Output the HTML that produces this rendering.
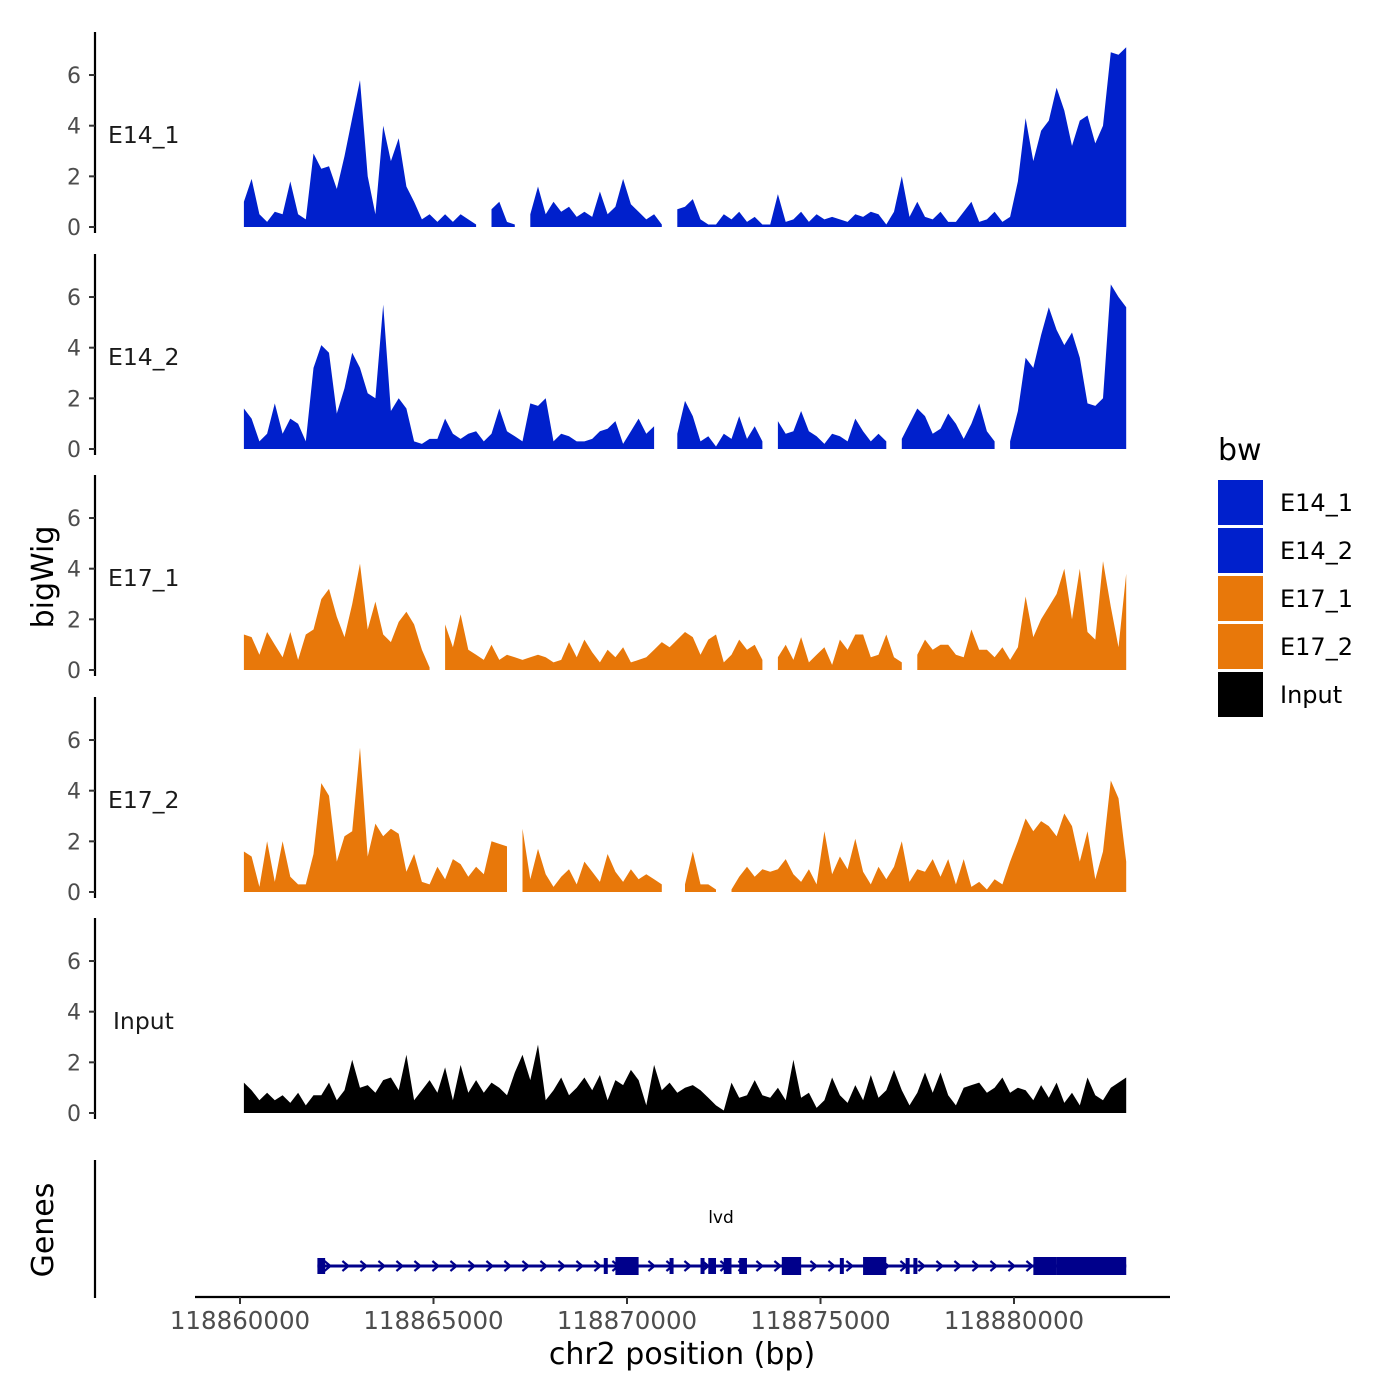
<!DOCTYPE html>
<html><head><meta charset="utf-8"><style>
body{margin:0;background:#fff}
svg{display:block;font-family:"DejaVu Sans","Liberation Sans",sans-serif}
</style></head><body>
<svg id="chart" width="1400" height="1400" viewBox="0 0 1400 1400"></svg>
<script>
const START_BP = 118860000;
const BIN_BP = 200;
const trackNames = ["E14_1","E14_2","E17_1","E17_2","Input"];
const trackColors = ["#0020CC","#0020CC","#E8780A","#E8780A","#000000"];
const yTicks = [0,2,4,6];
const xTickValues = [118860000,118865000,118870000,118875000,118880000];
const E14_1 = [1.0,1.9,0.5,0.2,0.6,0.5,1.8,0.5,0.3,2.9,2.3,2.4,1.5,2.8,4.3,5.8,2.0,0.5,4.0,2.6,3.5,1.6,1.0,0.3,0.5,0.2,0.5,0.2,0.5,0.3,0.1,null,0.7,1.0,0.2,0.1,null,0.5,1.6,0.5,1.0,0.6,0.8,0.4,0.6,0.4,1.4,0.5,0.8,1.9,0.9,0.6,0.3,0.5,0.1,null,0.7,0.8,1.1,0.3,0.1,0.1,0.5,0.3,0.6,0.2,0.4,0.1,0.1,1.3,0.2,0.3,0.6,0.2,0.5,0.3,0.4,0.3,0.2,0.5,0.4,0.6,0.5,0.1,0.6,2.0,0.4,1.0,0.4,0.3,0.6,0.2,0.2,0.6,1.0,0.2,0.3,0.6,0.2,0.4,1.8,4.3,2.6,3.8,4.2,5.5,4.6,3.2,4.2,4.4,3.3,4.0,6.9,6.8,7.1];
const E14_2 = [1.6,1.2,0.3,0.6,1.8,0.6,1.2,1.0,0.3,3.2,4.1,3.8,1.4,2.4,3.8,3.2,2.2,2.0,5.7,1.5,2.0,1.6,0.3,0.2,0.4,0.4,1.2,0.6,0.4,0.6,0.7,0.3,0.6,1.6,0.7,0.5,0.3,1.8,1.7,2.0,0.3,0.6,0.5,0.3,0.3,0.4,0.7,0.8,1.1,0.2,0.7,1.2,0.6,0.9,null,null,0.6,1.9,1.3,0.3,0.5,0.1,0.6,0.4,1.3,0.4,0.9,0.3,null,1.1,0.6,0.7,1.5,0.7,0.5,0.2,0.6,0.5,0.3,1.2,0.7,0.3,0.6,0.3,null,0.4,1.0,1.6,1.3,0.6,0.8,1.4,1.0,0.4,1.0,1.8,0.7,0.3,null,0.3,1.5,3.6,3.2,4.5,5.6,4.7,4.1,4.6,3.6,1.8,1.7,2.0,6.5,6.0,5.6];
const E17_1 = [1.4,1.3,0.6,1.5,1.0,0.5,1.5,0.4,1.4,1.6,2.8,3.2,2.1,1.3,2.6,4.2,1.6,2.7,1.4,1.1,1.9,2.3,1.8,0.8,0.1,null,1.8,0.9,2.2,0.8,0.6,0.4,1.0,0.4,0.6,0.5,0.4,0.5,0.6,0.5,0.3,0.4,1.1,0.5,1.2,0.7,0.3,0.8,0.5,0.9,0.3,0.4,0.5,0.8,1.1,0.9,1.2,1.5,1.3,0.6,1.2,1.4,0.3,0.6,1.2,0.8,1.0,0.4,null,0.5,1.0,0.4,1.3,0.3,0.6,0.9,0.2,1.2,0.8,1.4,1.4,0.5,0.6,1.4,0.5,0.3,null,0.6,1.2,0.8,1.0,1.0,0.6,0.5,1.6,0.8,0.8,0.5,0.9,0.4,0.9,2.9,1.3,2.0,2.5,3.0,4.0,2.0,4.0,1.5,1.2,4.3,2.5,0.9,3.8];
const E17_2 = [1.6,1.4,0.2,2.0,0.4,2.0,0.6,0.3,0.3,1.5,4.3,3.8,1.2,2.2,2.4,5.7,1.4,2.7,2.2,2.5,2.3,0.8,1.5,0.4,0.3,1.0,0.5,1.3,1.1,0.6,1.0,0.7,2.0,1.9,1.8,null,2.5,0.5,1.7,0.7,0.2,0.6,0.9,0.3,1.2,0.8,0.4,1.5,0.8,0.4,0.9,0.5,0.7,0.5,0.3,null,null,0.3,1.6,0.3,0.3,0.1,null,0.1,0.6,1.0,0.6,0.9,0.8,0.9,1.3,0.7,0.4,0.9,0.3,2.4,0.7,1.4,0.9,2.1,0.8,0.3,1.0,0.5,1.0,2.0,0.4,0.9,0.8,1.3,0.6,1.3,0.3,1.3,0.2,0.4,0.1,0.5,0.3,1.2,2.0,2.9,2.4,2.8,2.6,2.2,3.1,2.6,1.2,2.4,0.5,1.6,4.4,3.7,1.2];
const Input = [1.2,0.9,0.5,0.8,0.5,0.7,0.4,0.8,0.3,0.7,0.7,1.2,0.5,0.9,2.1,1.0,1.1,0.8,1.3,1.4,0.9,2.3,0.5,0.9,1.3,0.8,1.8,0.5,1.9,0.8,1.3,0.8,1.2,1.0,0.7,1.6,2.3,1.3,2.7,0.5,0.9,1.4,0.7,1.0,1.4,0.9,1.5,0.5,1.3,1.1,1.7,1.3,0.3,1.9,0.9,1.2,0.8,1.0,1.1,0.9,0.6,0.3,0.1,1.2,0.6,0.7,1.3,0.7,0.6,1.0,0.5,2.1,0.6,0.8,0.2,0.5,1.4,0.7,0.4,1.1,0.5,1.5,0.6,0.9,1.7,0.9,0.3,0.8,1.6,0.8,1.6,0.7,0.3,1.0,1.1,1.2,0.8,1.0,1.4,0.8,1.0,0.9,0.5,1.1,0.6,1.2,0.4,0.8,0.3,1.4,0.7,0.5,1.0,1.2,1.4];
const trackValues = [E14_1,E14_2,E17_1,E17_2,Input];
const geneStartBp = 118862000, geneEndBp = 118882900;
const exonStarts = [118862000,118869400,118869700,118871100,118871900,118872100,118872500,118872900,118874000,118875500,118876100,118877200,118877400,118880500,118881100];
const exonEnds   = [118862200,118869500,118870300,118871200,118872000,118872300,118872700,118873100,118874500,118875600,118876700,118877300,118877500,118881100,118882900];

const NS="http://www.w3.org/2000/svg";
const svg=document.getElementById('chart');
function mk(t,a,p){const e=document.createElementNS(NS,t);for(const k in a)e.setAttribute(k,a[k]);(p||svg).appendChild(e);return e;}
const xS=bp=>240+(bp-START_BP)*0.0387;
const PX_PER_UNIT=25.33;
const zeroY=[227,449,670,892,1113];

trackNames.forEach((name,t)=>{
  const g=mk('g',{});
  
  
  const y0=zeroY[t];
  const yS=v=>y0-v*PX_PER_UNIT;
  const ax=mk('line',{x1:95,x2:95,y1:y0-195,y2:y0+6,stroke:'#000','stroke-width':2.2},g);
  
  
  yTicks.forEach(v=>{
    mk('line',{x1:89,x2:95,y1:yS(v),y2:yS(v),stroke:'#333','stroke-width':2},g);
    const tx=mk('text',{x:81,y:yS(v)+8,'text-anchor':'end','font-size':22,fill:'#4d4d4d'},g);
    tx.textContent=v;
    
    
  });
  const lbl=mk('text',{x:name==='Input'?113:108,y:name==='Input'?1029:y0-84,'font-size':23.5,fill:'#1a1a1a'},g);
  lbl.textContent=name;
  
  
  const vals=trackValues[t];
  let seg=[];
  const flush=()=>{
    if(seg.length){
      let d='M'+seg[0][0]+','+y0;
      seg.forEach(p=>d+='L'+p[0]+','+p[1]);
      d+='L'+seg[seg.length-1][0]+','+y0+'Z';
      const p=mk('path',{d:d,fill:trackColors[t]},g);
      
      
    }
    seg=[];
  };
  vals.forEach((v,i)=>{
    if(v===null){flush();return;}
    seg.push([xS(START_BP+i*BIN_BP+100).toFixed(1),yS(v).toFixed(1)]);
  });
  flush();
});

const gg=mk('g',{});


mk('line',{x1:95,x2:95,y1:1160,y2:1298,stroke:'#000','stroke-width':2.2},gg);
mk('line',{x1:195,x2:1170,y1:1297,y2:1297,stroke:'#000','stroke-width':2.2},gg);
const gy=1266;
mk('line',{x1:xS(geneStartBp),x2:xS(geneEndBp),y1:gy,y2:gy,stroke:'#00008B','stroke-width':3},gg);
for(let x=xS(geneStartBp)+10;x<xS(geneEndBp)-5;x+=18){
  mk('polyline',{points:`${x-3},${gy-5} ${x+3},${gy} ${x-3},${gy+5}`,fill:'none',stroke:'#00008B','stroke-width':2.2},gg);
}
exonStarts.forEach((s,i)=>{
  const big=(exonEnds[i]-s)>=400;
  const r=mk('rect',{x:xS(s),y:big?gy-9:gy-8,width:Math.max(4,xS(exonEnds[i])-xS(s)),height:big?18:16,fill:'#00008B'},gg);
  
  
});
const gl=mk('text',{x:721,y:1223,'text-anchor':'middle','font-size':17,fill:'#000'},gg);
gl.textContent='lvd';



xTickValues.forEach(v=>{
  mk('line',{x1:xS(v),x2:xS(v),y1:1297,y2:1304,stroke:'#333','stroke-width':2});
  const t=mk('text',{x:xS(v),y:1329,'text-anchor':'middle','font-size':24.5,fill:'#4d4d4d'});
  t.textContent=v;
  
  
});
function txt(s,a,name){const t=mk('text',a);t.textContent=s;return t;}
txt('chr2 position (bp)',{x:682,y:1364,'text-anchor':'middle','font-size':30,fill:'#000'},'x-axis-title');
txt('bigWig',{x:53,y:577,'text-anchor':'middle','font-size':30,fill:'#000',transform:'rotate(-90 53 577)'},'y-axis-title');
txt('Genes',{x:53,y:1230,'text-anchor':'middle','font-size':30,fill:'#000',transform:'rotate(-90 53 1230)'},'genes-axis-title');

const lg=mk('g',{});


txt('bw',{x:1218,y:460,'font-size':30,fill:'#000'},'legend-title');
trackNames.forEach((n,i)=>{
  const y=480+i*48;
  const r=mk('rect',{x:1218,y:y,width:45,height:45,fill:trackColors[i]},lg);
  
  
  const t=mk('text',{x:1280,y:y+31,'font-size':24,fill:'#000'},lg);
  t.textContent=n;
  
  
});
</script>
</body></html>
